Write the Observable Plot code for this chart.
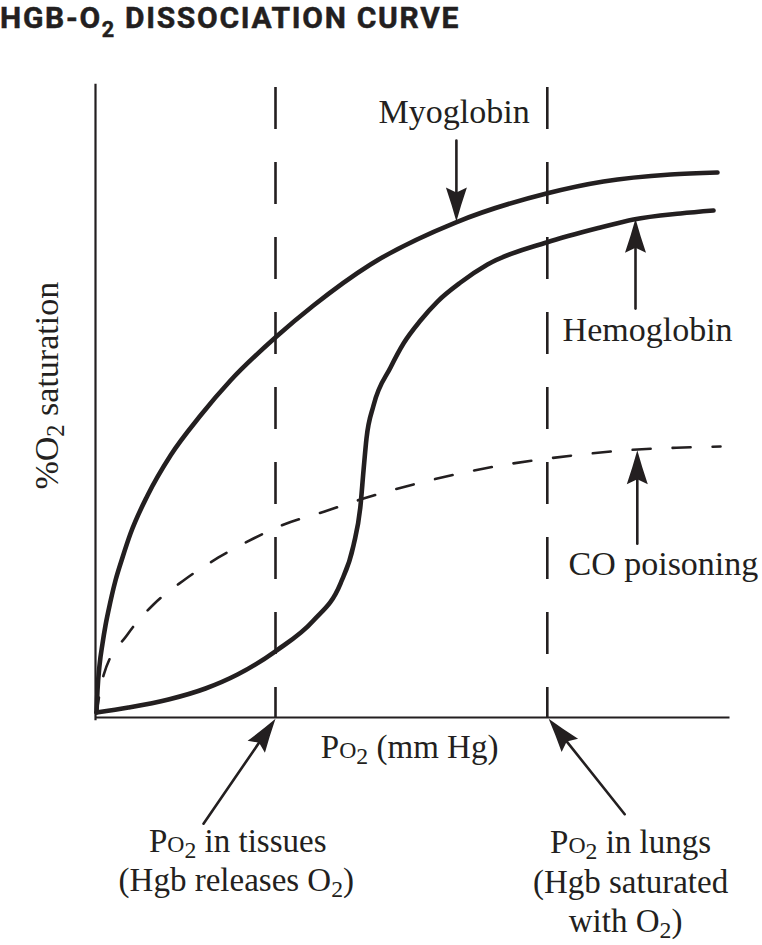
<!DOCTYPE html>
<html>
<head>
<meta charset="utf-8">
<script src="https://cdn.jsdelivr.net/npm/d3@7"></script>
<script src="https://cdn.jsdelivr.net/npm/@observablehq/plot@0.6"></script>
<style>
  body { margin: 0; background: #fff; }
  #wrap { position: relative; width: 762px; height: 945px; overflow: hidden; }
  #title { position: absolute; left: 0; top: 0; font-family: Roboto, "Open Sans", sans-serif; font-weight: 700;
           font-size: 30px; line-height: normal; color: #231f20; white-space: nowrap; letter-spacing: 1.7px;
           -webkit-text-stroke: 0.5px #231f20; }
  #title sub { font-size: 0.72em; vertical-align: -9px; line-height: 0; }
  svg { display: block; }
</style>
</head>
<body>
<div id="wrap">
  <div id="chart"></div>
  <div id="title">HGB-O<sub>2</sub> DISSOCIATION CURVE</div>
</div>
<script>
// ---------- data (x ~ PO2 mm Hg, y ~ % saturation) ----------
const myoglobinX = [0.22, 0.44, 0.89, 1.56, 2.22, 2.89, 4.44, 6.0, 7.78, 11.56, 16.67, 23.33, 30.0, 40.22, 48.44, 61.11, 80.0, 100.22, 112.89, 127.78, 138.22];
const myoglobinY = [0.79, 4.27, 8.23, 11.71, 14.56, 16.93, 21.68, 25.32, 29.11, 35.13, 41.46, 47.78, 53.32, 60.28, 65.19, 71.68, 78.32, 82.91, 84.81, 85.92, 86.23];

const hemoglobinX = [0.22, 7.33, 16.22, 24.44, 31.56, 40.22, 48.44, 54.44, 57.33, 58.89, 59.56, 60.22, 61.78, 65.56, 68.44, 72.22, 76.0, 81.11, 87.11, 100.22, 112.22, 119.56, 130.0, 137.33];
const hemoglobinY = [0.79, 1.58, 2.85, 4.59, 6.80, 10.60, 15.35, 21.20, 27.22, 33.54, 39.08, 44.15, 49.37, 55.38, 59.18, 62.82, 65.82, 68.83, 71.68, 75.16, 77.53, 78.80, 79.75, 80.22];

const coX = [0.22, 1.78, 7.11, 12.89, 19.56, 27.33, 35.11, 40.22, 51.56, 59.56, 70.67, 78.89, 90.0, 100.67, 112.22, 120.44, 130.67, 138.89];
const coY = [0.79, 6.65, 13.13, 17.88, 21.68, 25.32, 28.32, 30.06, 32.75, 34.65, 36.87, 38.29, 39.87, 40.98, 41.93, 42.41, 42.72, 42.88];

// reference PO2 levels: tissues, lungs
const markerPO2 = [40, 100.4];
const axisOrigin = [0];

// annotation arrows (start -> tip) in data units
const arrowX1 = [80.2, 120.0, 120.4, 24.0, 117.6];
const arrowY1 = [91.3, 64.7, 27.5, -16.8, -15.3];
const arrowX2 = [80.2, 120.0, 120.4, 40.0, 100.7];
const arrowY2 = [78.5, 78.9, 42.3, -0.2, -0.2];

// labels
const startLabels = ["Myoglobin", "Hemoglobin", "CO poisoning"];
const startLabelX = [62.9, 103.8, 105.1];
const startLabelY = [94.0, 59.65, 22.47];

const centerLabels = ["PO₂ (mm Hg)", "PO₂ in tissues", "(Hgb releases O₂)", "PO₂ in lungs", "(Hgb saturated", "with O₂)"];
const centerLabelX = [69.8, 31.6, 31.3, 118.9, 118.9, 117.8];
const centerLabelY = [-6.33, -21.36, -27.53, -21.5, -27.7, -33.9];

const yLabel = ["%O₂ saturation"];

// ---------- layout ----------
const W = 762, H = 945;
const mL = 95, mR = 32.5, mT = 85, mB = 228;
const xDomain = [0, 141], yDomain = [0, 100];
const kx = (W - mL - mR) / (xDomain[1] - xDomain[0]);
const ky = (H - mT - mB) / (yDomain[1] - yDomain[0]);
const INK = "#231f20";
const SERIF = "Liberation Serif, Times New Roman, serif";

const myo = myoglobinX.map((x, i) => ({x, y: myoglobinY[i]}));
const hgb = hemoglobinX.map((x, i) => ({x, y: hemoglobinY[i]}));
const co = coX.map((x, i) => ({x, y: coY[i]}));
const arrows = arrowX1.map((x1, i) => {
  const dx = (arrowX2[i] - x1) * kx, dy = -(arrowY2[i] - arrowY1[i]) * ky;
  return {x1, y1: arrowY1[i], x2: arrowX2[i], y2: arrowY2[i], angle: Math.atan2(dx, -dy) * 180 / Math.PI};
});
const sLabels = startLabels.map((t, i) => ({t, x: startLabelX[i], y: startLabelY[i]}));
const cLabels = centerLabels.map((t, i) => ({t, x: centerLabelX[i], y: centerLabelY[i]}));

// filled arrowhead, tip at origin pointing up
const headSymbol = {
  draw(ctx) {
    const L = 34, w = 10.5, n = 5;
    ctx.moveTo(0, 0);
    ctx.quadraticCurveTo(w * 0.45, L * 0.5, w, L);
    ctx.lineTo(0, L - n);
    ctx.lineTo(-w, L);
    ctx.quadraticCurveTo(-w * 0.45, L * 0.5, 0, 0);
    ctx.closePath();
  }
};

const chart = Plot.plot({
  width: W, height: H,
  marginLeft: mL, marginRight: mR, marginTop: mT, marginBottom: mB,
  x: {domain: xDomain, axis: null},
  y: {domain: yDomain, axis: null},
  style: {background: "transparent", overflow: "visible"},
  marks: [
    Plot.ruleX(axisOrigin, {x: d => d, y1: -0.5, y2: 100.2, stroke: INK, strokeWidth: 2.2}),
    Plot.ruleY(axisOrigin, {y: d => d, x1: 0, x2: 141, stroke: INK, strokeWidth: 2.2}),
    Plot.ruleX(markerPO2, {x: d => d, y1: 99.7, y2: 0, stroke: INK, strokeWidth: 2.6, strokeDasharray: "42,33"}),
    Plot.line(co, {x: "x", y: "y", curve: "monotone-x", stroke: INK, strokeWidth: 2.6, strokeDasharray: "18,22", strokeDashoffset: 3}),
    Plot.line(myo, {x: "x", y: "y", curve: "monotone-x", stroke: INK, strokeWidth: 4.6, strokeLinecap: "round", strokeLinejoin: "round"}),
    Plot.line(hgb, {x: "x", y: "y", curve: "monotone-x", stroke: INK, strokeWidth: 4.6, strokeLinecap: "round", strokeLinejoin: "round"}),
    Plot.arrow(arrows, {x1: "x1", y1: "y1", x2: "x2", y2: "y2", headLength: 0, insetEnd: 18, stroke: INK, strokeWidth: 2.6}),
    Plot.dot(arrows, {x: "x2", y: "y2", symbol: headSymbol, rotate: "angle", r: 5, fill: INK, stroke: "none"}),
    Plot.text(sLabels, {x: "x", y: "y", text: "t", textAnchor: "start", lineAnchor: "bottom", fontFamily: SERIF, fontSize: 34, fill: INK}),
    Plot.text(cLabels, {x: "x", y: "y", text: "t", textAnchor: "middle", lineAnchor: "bottom", fontFamily: SERIF, fontSize: 33, fill: INK}),
    Plot.text(yLabel, {x: -8.44, y: 52.5, text: d => d, rotate: -90, textAnchor: "middle", lineAnchor: "bottom", fontFamily: SERIF, fontSize: 34, fill: INK})
  ]
});

// turn "O₂" into O + subscript 2, and "PO₂" into P + small-cap O + subscript 2
const SUB = 6;
d3.select(chart).selectAll("text").each(function () {
  const t = this.textContent;
  if (!t.includes("₂")) return;
  const el = d3.select(this);
  this.textContent = "";
  const add = (s, attrs) => {
    const ts = el.append("tspan").text(s);
    for (const k in attrs) ts.attr(k, attrs[k]);
  };
  const re = /(PO₂|O₂)/g;
  let last = 0, m, up = false;
  const next = () => { const a = up ? {dy: -SUB} : {}; up = false; return a; };
  while ((m = re.exec(t))) {
    if (m.index > last) add(t.slice(last, m.index), next());
    if (m[0] === "PO₂") { add("P", next()); add("O", {"font-size": "0.72em"}); }
    else add("O", next());
    add("2", {"font-size": "0.72em", dy: SUB});
    up = true;
    last = m.index + m[0].length;
  }
  if (last < t.length) add(t.slice(last), next());
});

document.getElementById("chart").appendChild(chart);
</script>
</body>
</html>
